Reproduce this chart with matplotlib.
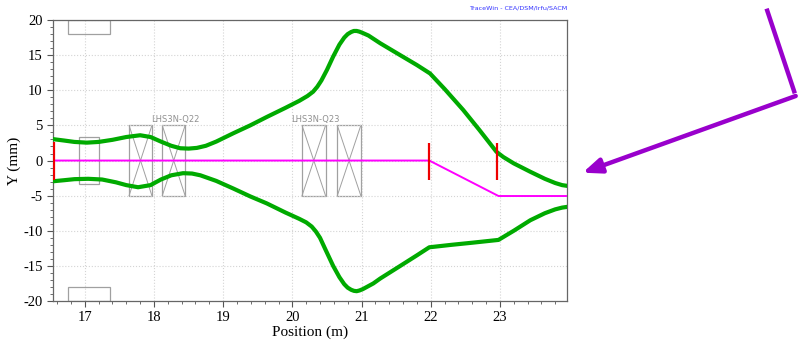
import matplotlib
matplotlib.use("Agg")
import matplotlib.pyplot as plt
from matplotlib.patches import Rectangle
from matplotlib.ticker import MultipleLocator

plt.rcParams["axes.unicode_minus"] = False

# envelope, upper side (m, mm)
up_x = [16.54, 16.7, 16.85, 17.03, 17.2, 17.4, 17.6, 17.8, 17.95, 18.1, 18.25, 18.38,
        18.5, 18.62, 18.75, 18.9, 19.15, 19.39, 19.63, 19.9, 20.1, 20.22, 20.3, 20.36,
        20.42, 20.5, 20.59, 20.68, 20.75, 20.8, 20.85, 20.89, 20.93, 20.97, 21.02, 21.1,
        21.27, 21.56, 21.8, 21.99, 22.2, 22.47, 22.7, 22.95, 23.05, 23.2, 23.44, 23.65,
        23.8, 23.9, 23.97]
up_y = [3.05, 2.85, 2.65, 2.55, 2.65, 2.95, 3.35, 3.6, 3.35, 2.7, 2.1, 1.75,
        1.7, 1.8, 2.1, 2.7, 3.9, 5.0, 6.2, 7.5, 8.5, 9.2, 9.8, 10.5,
        11.4, 12.9, 14.8, 16.5, 17.5, 18.0, 18.3, 18.45, 18.45, 18.35, 18.15, 17.8,
        16.7, 15.0, 13.6, 12.4, 10.2, 7.2, 4.4, 1.25, 0.5, -0.4, -1.6, -2.6,
        -3.2, -3.5, -3.6]

# envelope, lower side
lo_x = [16.54, 16.7, 16.85, 17.05, 17.25, 17.45, 17.6, 17.77, 17.95, 18.1, 18.25, 18.42,
        18.55, 18.67, 18.9, 19.15, 19.39, 19.63, 19.9, 20.1, 20.2, 20.28, 20.34, 20.4,
        20.48, 20.59, 20.68, 20.75, 20.8, 20.85, 20.89, 20.93, 20.97, 21.02, 21.17,
        21.27, 21.56, 21.8, 21.98, 22.3, 22.6, 22.98, 23.2, 23.44, 23.65, 23.8, 23.9,
        23.97]
lo_y = [-2.95, -2.8, -2.65, -2.6, -2.7, -3.1, -3.5, -3.8, -3.5, -2.7, -2.1, -1.8,
        -1.85, -2.1, -2.9, -4.0, -5.1, -6.1, -7.4, -8.3, -8.8, -9.4, -10.1, -11.0,
        -12.7, -15.0, -16.6, -17.6, -18.1, -18.4, -18.55, -18.6, -18.5, -18.3, -17.5,
        -16.8, -15.0, -13.5, -12.35, -12.0, -11.7, -11.3, -10.0, -8.5, -7.5, -6.95, -6.7,
        -6.6]

# beam centre
c_x = [16.54, 21.98, 22.98, 23.97]
c_y = [0.0, 0.0, -5.05, -5.05]

# red markers (position, half height)
mark_x = [16.55, 21.97, 22.96]
mark_top = [2.7, 2.5, 2.5]
mark_bot = [-2.7, -2.7, -2.7]

# quadrupoles (start, end, half aperture)
quad_x0 = [17.64, 18.12, 20.14, 20.65]
quad_x1 = [17.97, 18.45, 20.48, 20.99]
quad_h = 5.0
quad_names = ["LHS3N-Q22", "LHS3N-Q23"]
quad_name_x = [17.96, 19.98]

fig = plt.figure(figsize=(7.98, 3.46), dpi=100)
ax = fig.add_axes([0.0664, 0.130, 0.6441, 0.812])

# grey elements
ax.add_patch(Rectangle((16.92, -3.3), 0.29, 6.6, fill=False, ec="#a0a0a0", lw=0.9, zorder=1))
ax.add_patch(Rectangle((16.75, 18.0), 0.62, 2.0, fill=False, ec="#a0a0a0", lw=0.9, zorder=1))
ax.add_patch(Rectangle((16.75, -20.0), 0.62, 2.0, fill=False, ec="#a0a0a0", lw=0.9, zorder=1))
for a, b in zip(quad_x0, quad_x1):
    ax.add_patch(Rectangle((a, -quad_h), b - a, 2 * quad_h, fill=False, ec="#a0a0a0", lw=0.9, zorder=1))
    ax.plot([a, b], [quad_h, -quad_h], color="#a0a0a0", lw=0.7, zorder=1)
    ax.plot([a, b], [-quad_h, quad_h], color="#a0a0a0", lw=0.7, zorder=1)
for name, xn in zip(quad_names, quad_name_x):
    ax.text(xn, 5.9, name, fontsize=6, color="#909090", va="center", ha="left",
            family="DejaVu Sans")

ax.plot(up_x, up_y, color="#00aa00", lw=3.0, zorder=3, solid_joinstyle="round")
ax.plot(lo_x, lo_y, color="#00aa00", lw=3.0, zorder=3, solid_joinstyle="round")
ax.plot(c_x, c_y, color="#ff00ff", lw=1.4, zorder=4)
ax.vlines(mark_x, mark_bot, mark_top, color="#ee0000", lw=1.6, zorder=5)

ax.set_xlim(16.54, 23.97)
ax.set_ylim(-20, 20)
ax.xaxis.set_major_locator(MultipleLocator(1))
ax.xaxis.set_minor_locator(MultipleLocator(0.2))
ax.yaxis.set_major_locator(MultipleLocator(5))
ax.yaxis.set_minor_locator(MultipleLocator(1))
ax.grid(True, which="major", color="#d4d4d4", ls=":", lw=0.8)
ax.tick_params(which="major", direction="out", length=4, width=0.8, color="#555555",
               labelsize=10.5)
ax.tick_params(which="minor", direction="out", length=2, width=0.6, color="#555555")
for t in ax.get_xticklabels() + ax.get_yticklabels():
    t.set_family("Liberation Serif")
for s in ax.spines.values():
    s.set_color("#666666")
    s.set_linewidth(0.9)

ax.set_xlabel("Position (m)", family="Liberation Serif", fontsize=11, labelpad=1)
ax.set_ylabel("Y (mm)", family="Liberation Serif", fontsize=11)
ax.yaxis.set_label_coords(-0.062, 0.5)

fig.text(0.7105, 0.978, "TraceWin - CEA/DSM/Irfu/SACM", fontsize=4.6, color="#3333ff",
         ha="right", va="center")

# purple arrow drawn over the figure
purple = "#9900cc"
ax.annotate("", xy=(795.7, 346 - 96), xytext=(765.7, 346 - 6),
            xycoords="figure pixels", textcoords="figure pixels",
            arrowprops=dict(arrowstyle="-", color=purple, lw=3.2, capstyle="butt"),
            annotation_clip=False)
ax.annotate("", xy=(582.7, 346 - 172.7), xytext=(795.7, 346 - 96),
            xycoords="figure pixels", textcoords="figure pixels",
            arrowprops=dict(arrowstyle="-|>,head_length=1.1,head_width=0.45",
                            color=purple, lw=3.2, shrinkA=0, shrinkB=0),
            annotation_clip=False)

fig.savefig("out.png", dpi=100)
